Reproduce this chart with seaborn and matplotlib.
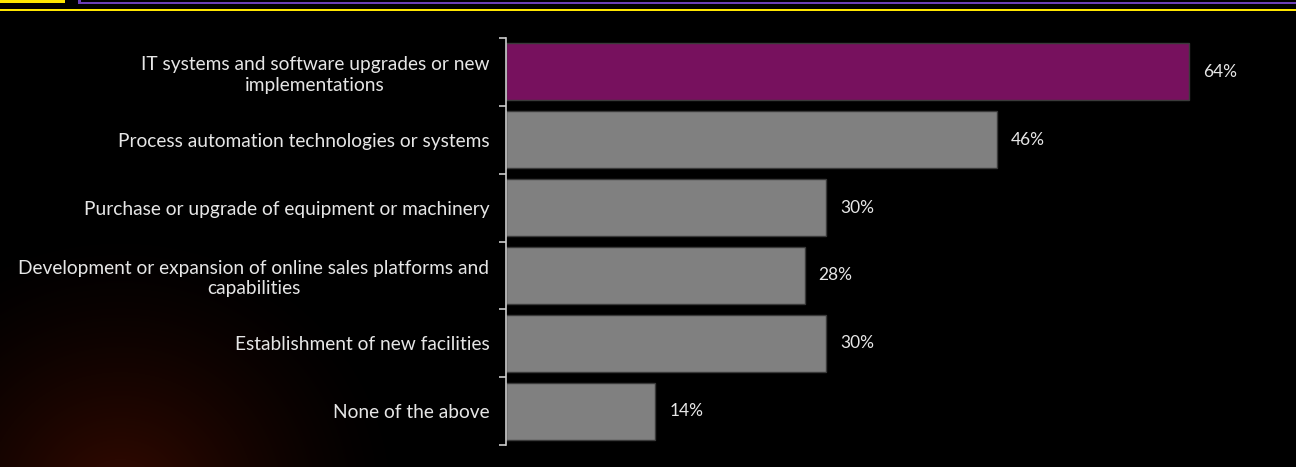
import numpy as np
import pandas as pd
import matplotlib
matplotlib.use("Agg")
import matplotlib.pyplot as plt
from matplotlib.patches import Rectangle
import seaborn as sns

categories = [
    "IT systems and software upgrades or new\nimplementations",
    "Process automation technologies or systems",
    "Purchase or upgrade of equipment or machinery",
    "Development or expansion of online sales platforms and\ncapabilities",
    "Establishment of new facilities",
    "None of the above",
]
values = [64, 46, 30, 28, 30, 14]
value_labels = ["64%", "46%", "30%", "28%", "30%", "14%"]
bar_colors = ["#77115E", "#808080", "#808080", "#808080", "#808080", "#808080"]

sns.set_theme(style="dark")
plt.rcParams['font.family'] = ['Lato', 'DejaVu Sans']

W, H = 1296, 467
fig = plt.figure(figsize=(W / 100, H / 100), dpi=100, facecolor="black")

# background glow
bg = fig.add_axes([0, 0, 1, 1])
bg.set_xlim(0, W)
bg.set_ylim(H, 0)
bg.axis("off")
yy, xx = np.mgrid[0:H, 0:W]
d = np.sqrt((xx - 120.0) ** 2 + ((yy - 500.0) * 1.05) ** 2)
a = np.clip(1 - d / 290.0, 0, 1) ** 1.5
img = np.zeros((H, W, 3))
img[..., 0] = 0.21 * a
img[..., 1] = 0.04 * a
img[..., 2] = 0.005 * a
bg.imshow(img, extent=(0, W, H, 0), aspect="auto", interpolation="bilinear")
# top decorations
bg.add_patch(Rectangle((0, 0), 65, 3, color="#FFE600", lw=0))
bg.add_patch(Rectangle((78, 1.5), W - 78, 2, color="#6B3FB8", lw=0))
bg.add_patch(Rectangle((78, 0), 2.5, 3.5, color="#6B3FB8", lw=0))
bg.add_patch(Rectangle((0, 9), W, 2, color="#FFE600", lw=0))

left = 506 / W
bottom = 1 - 445 / H
top = 1 - 38 / H
ax = fig.add_axes([left, bottom, 1 - left, top - bottom])
ax.set_facecolor("none")

df = pd.DataFrame({"category": categories, "value": values})
sns.barplot(data=df, y="category", x="value", hue="category", palette=bar_colors,
            orient="h", width=0.84, edgecolor="#3a3a3a", linewidth=1,
            legend=False, ax=ax, saturation=1)

px_per_pct = (1189 - 506) / 64
ax.set_xlim(0, (W - 506) / px_per_pct)
ax.set_ylim(len(categories) - 0.5, -0.5)

for i, (v, lab) in enumerate(zip(values, value_labels)):
    ax.annotate(lab, xy=(v, i), xytext=(10, 0), textcoords="offset points",
                va="center", ha="left", color="#e6e6e6", fontsize=12.5)

ax.set_xlabel("")
ax.set_ylabel("")
ax.set_xticks([])
ax.set_yticks(range(len(categories)))
ax.set_yticklabels(categories, multialignment="center", color="#e6e6e6",
                   fontsize=13.8, linespacing=1.25)
ax.tick_params(axis="y", which="major", length=0, pad=12)
ax.set_yticks(np.arange(-0.5, len(categories), 1.0), minor=True)
ax.tick_params(axis="y", which="minor", length=5, width=1.2, color="#cccccc", left=True)
ax.grid(False)
for s in ["top", "right", "bottom"]:
    ax.spines[s].set_visible(False)
ax.spines["left"].set_color("#cccccc")
ax.spines["left"].set_linewidth(1.2)

fig.savefig("out.png", dpi=100, facecolor="black")
